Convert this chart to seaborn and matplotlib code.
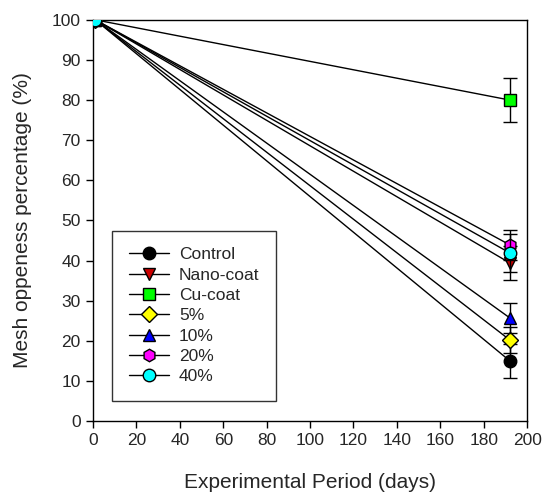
import numpy as np
import pandas as pd
import matplotlib
matplotlib.use('Agg')
import matplotlib.pyplot as plt
import seaborn as sns

days = [1, 192]
series = ['Control', 'Nano-coat', 'Cu-coat', '5%', '10%', '20%', '40%']
end_values = [15.0, 39.4, 80.0, 20.2, 25.7, 43.9, 41.9]
end_errors = [4.3, 4.2, 5.5, 3.2, 3.7, 3.7, 4.7]
start_value = 100.0
markers = ['o', 'v', 's', 'D', '^', 'h', 'o']
face_colors = ['black', '#CC0000', '#00FF00', '#FFFF00', '#0000FF', '#FF00FF', '#00FFFF']
marker_sizes = [9, 9, 8, 8, 9, 9, 9]

sns.set_style('ticks')
plt.rcParams['font.family'] = ['Liberation Sans', 'DejaVu Sans']

fig = plt.figure(figsize=(5.44, 4.95), dpi=100)
ax = fig.add_axes([0.171, 0.1495, 0.798, 0.8105])

for i, name in enumerate(series):
    df = pd.DataFrame({'day': days, 'value': [start_value, end_values[i]]})
    ax.errorbar(days[1], end_values[i], yerr=end_errors[i], fmt='none',
                ecolor='black', elinewidth=1, capsize=5, capthick=1, zorder=2 + i)
    sns.lineplot(data=df, x='day', y='value', ax=ax, color='black', linewidth=1,
                 marker=markers[i], markersize=marker_sizes[i],
                 markerfacecolor=face_colors[i], markeredgecolor='black',
                 markeredgewidth=1, label=name, zorder=3 + i)

ax.set_xlim(0, 200)
ax.set_ylim(0, 100)
ax.set_xticks(np.arange(0, 201, 20))
ax.set_yticks(np.arange(0, 101, 10))
ax.tick_params(direction='out', length=5, width=1, labelsize=12.5, color='black', pad=4)
ax.set_xlabel('Experimental Period (days)', fontsize=15, labelpad=18)
ax.set_ylabel('Mesh oppeness percentage (%)', fontsize=15, labelpad=14)
for s in ax.spines.values():
    s.set_color('black')
    s.set_linewidth(1)

leg = ax.legend(loc='lower left', bbox_to_anchor=(0.044, 0.05), borderaxespad=0,
                fontsize=12.5, frameon=True, fancybox=False, handlelength=2.3,
                handletextpad=0.6, labelspacing=0.3, borderpad=0.95)
leg.get_frame().set_edgecolor('black')
leg.get_frame().set_linewidth(1)

fig.savefig('out.png', dpi=100)
